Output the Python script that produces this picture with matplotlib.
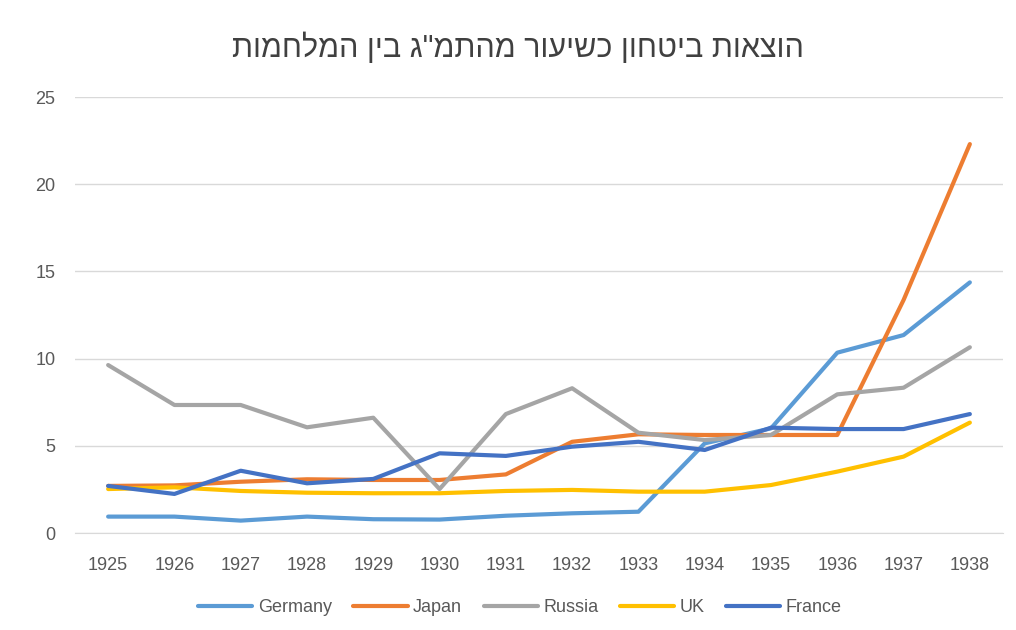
import matplotlib

matplotlib.use("Agg")

import matplotlib.pyplot as plt

plt.rcParams["font.family"] = ["Liberation Sans", "DejaVu Sans"]

years = [str(y) for y in range(1925, 1939)]

germany = [0.94, 0.94, 0.71, 0.94, 0.79, 0.77, 0.99, 1.13, 1.22, 5.14, 6.0, 10.34, 11.35, 14.37]
japan = [2.7, 2.73, 2.94, 3.08, 3.04, 3.04, 3.36, 5.23, 5.66, 5.62, 5.62, 5.62, 13.36, 22.3]
russia = [9.63, 7.34, 7.34, 6.06, 6.61, 2.52, 6.82, 8.3, 5.75, 5.33, 5.62, 7.95, 8.33, 10.65]
uk = [2.52, 2.62, 2.41, 2.31, 2.28, 2.28, 2.41, 2.47, 2.37, 2.37, 2.75, 3.52, 4.38, 6.33]
france = [2.7, 2.24, 3.57, 2.85, 3.1, 4.57, 4.42, 4.95, 5.23, 4.76, 6.04, 5.96, 5.96, 6.82]

series = [
    ("Germany", germany, "#5B9BD5"),
    ("Japan", japan, "#ED7D31"),
    ("Russia", russia, "#A5A5A5"),
    ("UK", uk, "#FFC000"),
    ("France", france, "#4472C4"),
]

title = 'הוצאות ביטחון כשיעור מהתמ"ג בין המלחמות'

fig = plt.figure(figsize=(10.16, 6.3), dpi=100)
ax = fig.add_axes([75 / 1016, 97 / 630, 928 / 1016, 436 / 630])

x = range(len(years))
for name, values, color in series:
    ax.plot(x, values, color=color, linewidth=3.0, label=name, solid_capstyle="round")

ax.set_xlim(-0.5, len(years) - 0.5)
ax.set_ylim(0, 25)
ax.set_yticks(range(0, 26, 5))
ax.set_xticks(list(x))
ax.set_xticklabels(years)
ax.grid(axis="y", color="#D9D9D9", linewidth=1.0)
ax.set_axisbelow(True)
for side in ["top", "right", "left"]:
    ax.spines[side].set_visible(False)
ax.spines["bottom"].set_color("#D9D9D9")
ax.tick_params(length=0, labelsize=13, colors="#595959")
ax.tick_params(axis="x", pad=17)
ax.tick_params(axis="y", pad=14)

# matplotlib has no bidi support, so reverse the Hebrew for display
fig.text(518 / 1016, 1 - 48 / 630, title[::-1], ha="center", va="center",
         fontsize=22, color="#404040")

fig.legend(loc="center", bbox_to_anchor=(520 / 1016, 1 - 608 / 630), ncol=5,
           frameon=False, fontsize=13, handlelength=3.0, columnspacing=1.2,
           handletextpad=0.3, labelcolor="#595959")

fig.savefig("out.png", dpi=100)
